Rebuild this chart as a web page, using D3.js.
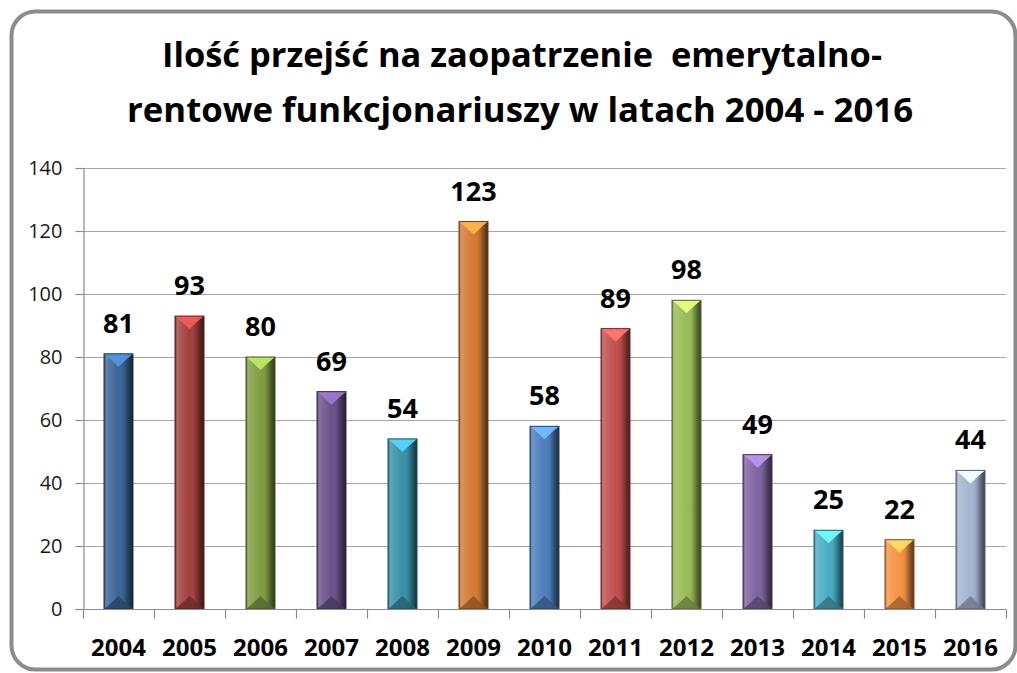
<!DOCTYPE html>
<html>
<head>
<meta charset="utf-8">
<script src="https://cdn.jsdelivr.net/npm/d3@7"></script>
<style>
  body { margin: 0; background: #fff; }
  svg { display: block; }
</style>
</head>
<body>
<script>
// chart data
const years = ["2004", "2005", "2006", "2007", "2008", "2009", "2010", "2011", "2012", "2013", "2014", "2015", "2016"];
const counts = [81, 93, 80, 69, 54, 123, 58, 89, 98, 49, 25, 22, 44];
const barColors = ["#3b6497", "#a23f3c", "#809d44", "#6a5189", "#3990a8", "#d47a32", "#4c7ebe",
                   "#c04f4c", "#9abb58", "#7f63a1", "#4aabc5", "#f59445", "#a4b4d2"];
const yTicks = [0, 20, 40, 60, 80, 100, 120, 140];
const titleLines = ["Ilość przejść na zaopatrzenie  emerytalno-", "rentowe funkcjonariuszy w latach 2004 - 2016"];

const width = 1017, height = 673;
const margin = { left: 83, right: 11, top: 168, bottom: 64 };

const svg = d3.select("body")
  .append("svg")
  .attr("width", width)
  .attr("height", height);

const defs = svg.append("defs");

// side shading for the bevelled bars
const side = defs.append("linearGradient")
  .attr("id", "side")
  .attr("x1", "0").attr("x2", "1").attr("y1", "0").attr("y2", "0");
[[0, "#000", 0.3], [0.08, "#fff", 0.2], [0.2, "#fff", 0.12], [0.5, "#fff", 0.0],
 [0.7, "#000", 0.1], [0.85, "#000", 0.4], [1, "#000", 0.65]].forEach(function (s) {
  side.append("stop").attr("offset", s[0]).attr("stop-color", s[1]).attr("stop-opacity", s[2]);
});

// outer frame
svg.append("rect")
  .attr("x", 11.5).attr("y", 11.5)
  .attr("width", 1004).attr("height", 658)
  .attr("rx", 24).attr("ry", 24)
  .attr("fill", "#fff")
  .attr("stroke", "#8c8c8c")
  .attr("stroke-width", 4);

// title
svg.append("g")
  .selectAll("text")
  .data(titleLines)
  .enter()
  .append("text")
  .attr("x", function (d, i) { return i === 0 ? 522 : 520; })
  .attr("y", function (d, i) { return i === 0 ? 67 : 122; })
  .attr("text-anchor", "middle")
  .attr("font-family", "Open Sans")
  .attr("font-weight", "bold")
  .attr("font-size", 34)
  .attr("textLength", function (d, i) { return i === 0 ? 720 : 786; })
  .attr("lengthAdjust", "spacingAndGlyphs")
  .style("white-space", "pre")
  .attr("fill", "#000")
  .text(function (d) { return d; });

const x = d3.scaleBand()
  .domain(years)
  .range([margin.left, width - margin.right])
  .paddingInner(0)
  .paddingOuter(0);

const y = d3.scaleLinear()
  .domain([0, 140])
  .range([height - margin.bottom, margin.top]);

// gridlines
svg.append("g")
  .selectAll("line")
  .data(yTicks.slice(1))
  .enter()
  .append("line")
  .attr("x1", margin.left)
  .attr("x2", width - margin.right)
  .attr("y1", function (d) { return Math.round(y(d)) + 0.5; })
  .attr("y2", function (d) { return Math.round(y(d)) + 0.5; })
  .attr("stroke", "#a6a6a6")
  .attr("stroke-width", 1.2);

// y axis
const yAxis = svg.append("g")
  .attr("transform", "translate(" + (margin.left + 0.5) + ",0)")
  .call(d3.axisLeft(y).tickValues(yTicks).tickSize(8).tickPadding(13));
yAxis.selectAll("line, path").attr("stroke", "#8c8c8c").attr("stroke-width", 1.2);
yAxis.selectAll("text")
  .attr("font-family", "Open Sans")
  .attr("font-size", 20)
  .attr("fill", "#1a1a1a");

// bars
const bw = 29;
const bars = svg.append("g")
  .selectAll("g")
  .data(years)
  .enter()
  .append("g")
  .attr("transform", function (d) {
    return "translate(" + (x(d) + x.bandwidth() / 2 - bw / 2) + ",0)";
  });

bars.append("rect")
  .attr("x", 0)
  .attr("y", function (d, i) { return y(counts[i]); })
  .attr("width", bw)
  .attr("height", function (d, i) { return y(0) - y(counts[i]); })
  .attr("fill", function (d, i) { return barColors[i]; });

bars.append("rect")
  .attr("x", 0)
  .attr("y", function (d, i) { return y(counts[i]); })
  .attr("width", bw)
  .attr("height", function (d, i) { return y(0) - y(counts[i]); })
  .attr("fill", "url(#side)");

// top bevel
bars.append("path")
  .attr("d", function (d, i) {
    const t = y(counts[i]);
    return "M0," + t + "L" + bw + "," + t + "L" + (bw - 6) + "," + (t + 5) +
      "L" + (bw / 2) + "," + (t + 13) + "L6," + (t + 5) + "Z";
  })
  .attr("fill", function (d, i) { return d3.color(barColors[i]).brighter(1.1); })
  .attr("opacity", 0.95);

// bottom bevel
bars.append("path")
  .attr("d", function (d, i) {
    const b = y(0);
    return "M0," + b + "L" + bw + "," + b + "L" + (bw - 6) + "," + (b - 5) +
      "L" + (bw / 2) + "," + (b - 13) + "L6," + (b - 5) + "Z";
  })
  .attr("fill", function (d, i) { return d3.color(barColors[i]).darker(1.1); })
  .attr("opacity", 0.85);

bars.append("rect")
  .attr("x", 0)
  .attr("y", function (d, i) { return y(counts[i]); })
  .attr("width", bw)
  .attr("height", function (d, i) { return y(0) - y(counts[i]); })
  .attr("fill", "none")
  .attr("stroke", function (d, i) { return d3.color(barColors[i]).darker(1.8); })
  .attr("stroke-width", 1);

// value labels
bars.append("text")
  .attr("x", bw / 2)
  .attr("y", function (d, i) { return y(counts[i]) - 21; })
  .attr("text-anchor", "middle")
  .attr("font-family", "Open Sans")
  .attr("font-weight", "bold")
  .attr("font-size", 27)
  .attr("fill", "#000")
  .text(function (d, i) { return counts[i]; });

// x axis
const xAxisG = svg.append("g")
  .attr("transform", "translate(0," + (y(0) + 0.5) + ")");
xAxisG.append("line")
  .attr("x1", margin.left).attr("x2", width - margin.right)
  .attr("stroke", "#8c8c8c").attr("stroke-width", 1.2);
xAxisG.selectAll("line.tick")
  .data(years.concat(["end"]))
  .enter()
  .append("line")
  .attr("class", "tick")
  .attr("x1", function (d, i) { return Math.round(margin.left + i * x.step()) + 0.5; })
  .attr("x2", function (d, i) { return Math.round(margin.left + i * x.step()) + 0.5; })
  .attr("y1", 0).attr("y2", 9)
  .attr("stroke", "#8c8c8c").attr("stroke-width", 1.2);
xAxisG.selectAll("text")
  .data(years)
  .enter()
  .append("text")
  .attr("x", function (d) { return x(d) + x.bandwidth() / 2; })
  .attr("y", 46)
  .attr("text-anchor", "middle")
  .attr("font-family", "Open Sans")
  .attr("font-weight", "bold")
  .attr("font-size", 24)
  .attr("fill", "#000")
  .text(function (d) { return d; });
</script>
</body>
</html>
